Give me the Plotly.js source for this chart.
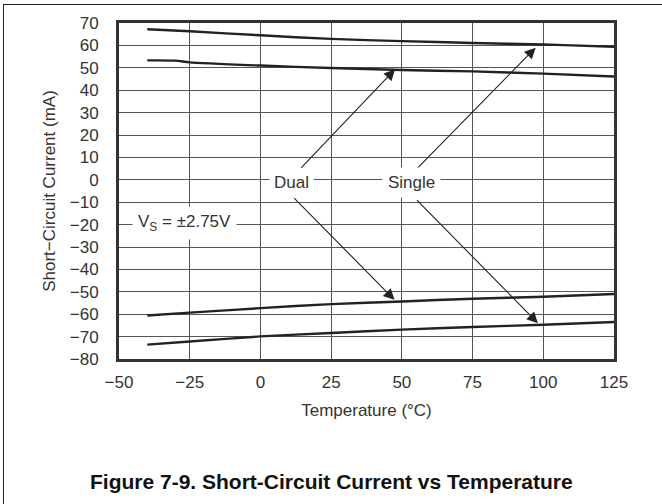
<!DOCTYPE html>
<html>
<head>
<meta charset="utf-8">
<script src="https://cdn.plot.ly/plotly-3.0.1.min.js"></script>
<style>
html,body{margin:0;padding:0;background:#fff;}
#wrap{position:relative;width:662px;height:504px;overflow:hidden;}
#chart{width:662px;height:504px;}
#frame{position:absolute;left:3px;top:4px;width:700px;height:600px;border-left:1.5px solid #222;border-top:1.5px solid #222;pointer-events:none;}
</style>
</head>
<body>
<div id="wrap"><div id="chart"></div><div id="frame"></div></div>
<script>
// Temperatures (°C) and short-circuit currents (mA)
const tempSinglePos = [-40, -25, 0, 25, 50, 75, 100, 110, 125];
const singlePos     = [67.2, 66.3, 64.5, 62.9, 61.9, 61.1, 60.4, 60.0, 59.4];
const tempDualPos   = [-40, -30, -25, 0, 25, 50, 75, 100, 125];
const dualPos       = [53.3, 53.2, 52.4, 51.0, 49.9, 49.0, 48.4, 47.4, 46.1];
const tempDualNeg   = [-40, -25, 0, 25, 50, 75, 100, 125];
const dualNeg       = [-60.6, -59.3, -57.3, -55.5, -54.3, -53.1, -52.2, -51.0];
const tempSingleNeg = [-40, -25, 0, 25, 50, 75, 100, 125];
const singleNeg     = [-73.6, -72.2, -69.9, -68.4, -66.9, -65.7, -64.7, -63.5];

const xTickVals = [-50, -25, 0, 25, 50, 75, 100, 125];
const yTickVals = [-80, -70, -60, -50, -40, -30, -20, -10, 0, 10, 20, 30, 40, 50, 60, 70];
const fmt = v => (v < 0 ? '\u2212' + Math.abs(v) : String(v));

const lineStyle = {color: '#222', width: 2.4, shape: 'spline', smoothing: 0.6};
const traces = [
  {x: tempSinglePos, y: singlePos, mode: 'lines', line: lineStyle, name: 'Single +'},
  {x: tempDualPos, y: dualPos, mode: 'lines', line: lineStyle, name: 'Dual +'},
  {x: tempDualNeg, y: dualNeg, mode: 'lines', line: lineStyle, name: 'Dual −'},
  {x: tempSingleNeg, y: singleNeg, mode: 'lines', line: lineStyle, name: 'Single −'}
];

const font = {family: 'Liberation Sans, Arial, sans-serif', size: 17, color: '#333'};

function arrow(tx, ty, ax, ay) {
  return {x: tx, y: ty, ax: ax, ay: ay, xref: 'x', yref: 'y', axref: 'x', ayref: 'y',
    text: '', showarrow: true, arrowhead: 2, arrowsize: 2, arrowwidth: 1.1, arrowcolor: '#222'};
}

const layout = {
  width: 662, height: 504,
  margin: {l: 119, r: 48, t: 23, b: 145},
  paper_bgcolor: '#fff', plot_bgcolor: '#fff',
  showlegend: false,
  font: font,
  xaxis: {
    range: [-50, 125], tickvals: xTickVals, ticktext: xTickVals.map(fmt),
    showgrid: true, gridcolor: '#555', gridwidth: 1, zeroline: false,
    showline: true, mirror: true, linecolor: '#333', linewidth: 3,
    ticks: 'outside', ticklen: 6, tickcolor: 'rgba(0,0,0,0)',
    tickfont: font,
    title: {text: 'Temperature (°C)', font: font, standoff: 13}
  },
  yaxis: {
    range: [-80, 70], tickvals: yTickVals, ticktext: yTickVals.map(fmt),
    showgrid: true, gridcolor: '#555', gridwidth: 1, zeroline: false,
    showline: true, mirror: true, linecolor: '#333', linewidth: 3,
    ticks: 'outside', ticklen: 14, tickcolor: 'rgba(0,0,0,0)',
    tickfont: font,
    title: {text: 'Short\u2212Circuit Current (mA)', font: font, standoff: 10}
  },
  annotations: [
    arrow(47.6, 49.3, 13.9, 4.7),
    arrow(47.4, -53.6, 11.4, -7.5),
    arrow(97.3, 59.0, 55.1, 4.7),
    arrow(98.1, -64.0, 54.8, -8.4),
    {x: 10.9, y: -1.2, xref: 'x', yref: 'y', text: 'Dual', showarrow: false,
      bgcolor: '#fff', borderpad: 4, font: font},
    {x: 53.4, y: -1.2, xref: 'x', yref: 'y', text: 'Single', showarrow: false,
      bgcolor: '#fff', borderpad: 5, font: font},
    {x: -27, y: -19.1, xref: 'x', yref: 'y', text: 'V<sub>S</sub> = ±2.75V', showarrow: false,
      bgcolor: '#fff', borderpad: 5, font: font},
    {x: 0.5, y: 0, xref: 'paper', yref: 'paper', xanchor: 'center', yanchor: 'middle',
      text: '<b>Figure 7-9. Short-Circuit Current vs Temperature</b>',
      showarrow: false, font: {family: 'Liberation Sans, Arial, sans-serif', size: 21, color: '#111'}}
  ]
};
// caption position in paper coords: convert pixel centre (331, 481) to paper fractions
const plotH = 504 - 23 - 145;
layout.annotations[7].y = (504 - 145 - 481) / plotH;
layout.annotations[7].x = (331 - 119) / (662 - 119 - 48);

Plotly.newPlot('chart', traces, layout, {displayModeBar: false, staticPlot: true});
</script>
</body>
</html>
